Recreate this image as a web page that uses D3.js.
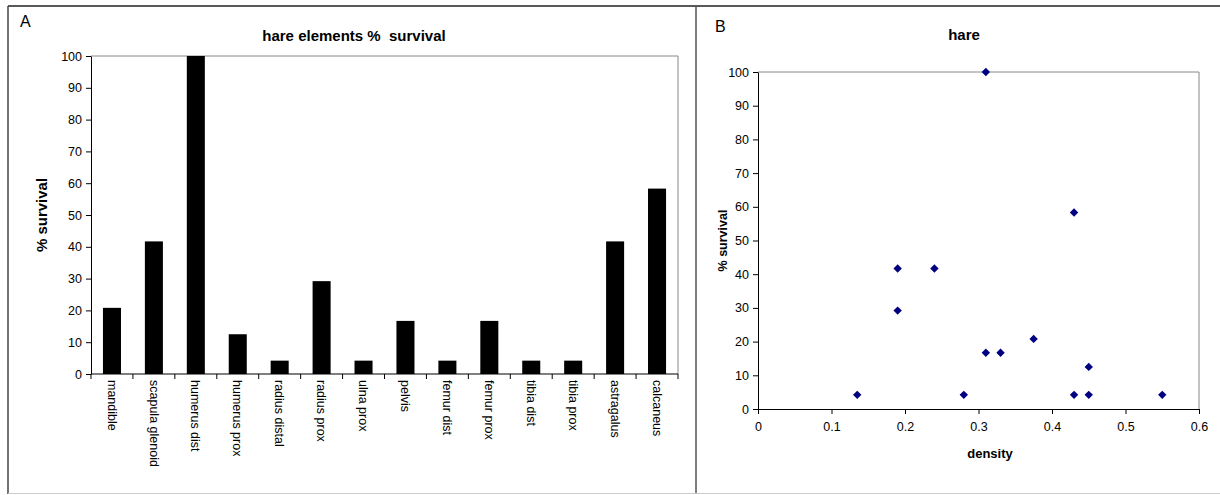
<!DOCTYPE html>
<html>
<head>
<meta charset="utf-8">
<script src="https://cdn.jsdelivr.net/npm/d3@7"></script>
<style>
  body { margin: 0; background: #fff; }
  svg text { font-family: Arial, "Liberation Sans", sans-serif; fill: #000; }
</style>
</head>
<body>
<svg id="chart" width="1220" height="495"></svg>
<script>
// bar chart (A)
var elements = ['mandible', 'scapula glenoid', 'humerus dist', 'humerus prox', 'radius distal',
                'radius prox', 'ulna prox', 'pelvis', 'femur dist', 'femur prox', 'tibia dist',
                'tibia prox', 'astragalus', 'calcaneus'];
var survival = [20.8, 41.7, 100, 12.5, 4.2, 29.2, 4.2, 16.7, 4.2, 16.7, 4.2, 4.2, 41.7, 58.3];

// scatter (B)
var density   = [0.135, 0.19, 0.19, 0.24, 0.28, 0.31, 0.31, 0.33, 0.375, 0.43, 0.43, 0.45, 0.45, 0.55];
var survivalB = [4.2, 41.7, 29.2, 41.7, 4.2, 100, 16.7, 16.7, 20.8, 58.3, 4.2, 12.5, 4.2, 4.2];

var yTicks = d3.range(0, 101, 10);
var xTicksB = [0, 0.1, 0.2, 0.3, 0.4, 0.5, 0.6];

var svg = d3.select('#chart');

// frame
svg.append('line').attr('x1', 8).attr('x2', 1220).attr('y1', 6).attr('y2', 6)
    .attr('stroke', '#222').attr('stroke-width', 1.5);
svg.append('line').attr('x1', 8).attr('x2', 8).attr('y1', 6).attr('y2', 494)
    .attr('stroke', '#444').attr('stroke-width', 1.5);
svg.append('line').attr('x1', 696).attr('x2', 696).attr('y1', 6).attr('y2', 494)
    .attr('stroke', '#555').attr('stroke-width', 1.5);
svg.append('line').attr('x1', 8).attr('x2', 1220).attr('y1', 493.5).attr('y2', 493.5)
    .attr('stroke', '#ccc').attr('stroke-width', 1);

svg.append('text').attr('x', 20).attr('y', 27).style('font-size', '16px').text('A');
svg.append('text').attr('x', 715).attr('y', 32).style('font-size', '16px').text('B');

// ---------- A: bars ----------
var plotA = { left: 91, right: 678, top: 56, bottom: 374 };
var xCat = d3.scaleBand().domain(elements).range([plotA.left, plotA.right]).padding(0);
var xBar = d3.scaleBand().domain(elements).range([plotA.left, plotA.right])
    .paddingInner(0.57).paddingOuter(0.285);
var yA = d3.scaleLinear().domain([0, 100]).range([plotA.bottom, plotA.top]);

var gA = svg.append('g');
gA.append('text').attr('x', 354).attr('y', 41).attr('text-anchor', 'middle')
    .style('font-size', '15px').style('font-weight', 'bold').style('white-space', 'pre')
    .text('hare elements %  survival');

// plot border (top/right)
gA.append('path')
    .attr('d', 'M' + plotA.left + ',' + plotA.top + 'H' + plotA.right + 'V' + plotA.bottom)
    .attr('fill', 'none').attr('stroke', '#888').attr('stroke-width', 1);

gA.selectAll('rect.bar').data(elements).enter().append('rect')
    .attr('class', 'bar')
    .attr('x', function(d) { return xBar(d); })
    .attr('width', xBar.bandwidth())
    .attr('y', function(d, i) { return yA(survival[i]); })
    .attr('height', function(d, i) { return yA(0) - yA(survival[i]); })
    .attr('fill', '#000');

var axisYA = gA.append('g').attr('transform', 'translate(' + plotA.left + ',0)')
    .call(d3.axisLeft(yA).tickValues(yTicks).tickSize(5).tickSizeOuter(0));
axisYA.select('.domain').attr('stroke', '#000');
axisYA.selectAll('text').style('font-size', '12.5px').attr('font-family', null).attr('dx', '-1');

// x axis with boundary ticks
var axisXA = gA.append('g').attr('transform', 'translate(0,' + plotA.bottom + ')');
axisXA.append('line').attr('x1', plotA.left).attr('x2', plotA.right)
    .attr('stroke', '#000').attr('stroke-width', 1.2);
var bounds = elements.map(function(d) { return xCat(d); }).concat([plotA.right]);
axisXA.selectAll('line.tk').data(bounds).enter().append('line')
    .attr('class', 'tk')
    .attr('x1', function(d) { return d; }).attr('x2', function(d) { return d; })
    .attr('y1', 0).attr('y2', 5).attr('stroke', '#000');
axisXA.selectAll('text.cat').data(elements).enter().append('text')
    .attr('class', 'cat')
    .attr('transform', function(d) {
        return 'translate(' + (xCat(d) + xCat.bandwidth() / 2) + ',6) rotate(90)';
    })
    .attr('dy', '0.35em')
    .style('font-size', '12.5px')
    .text(function(d) { return d; });

gA.append('text')
    .attr('transform', 'translate(47,' + (plotA.top + plotA.bottom) / 2 + ') rotate(-90)')
    .attr('text-anchor', 'middle')
    .style('font-size', '15px').style('font-weight', 'bold')
    .text('% survival');

// ---------- B: scatter ----------
var plotB = { left: 758, right: 1199, top: 72, bottom: 409 };
var xB = d3.scaleLinear().domain([0, 0.6]).range([plotB.left, plotB.right]);
var yB = d3.scaleLinear().domain([0, 100]).range([plotB.bottom, plotB.top]);

var gB = svg.append('g');
gB.append('text').attr('x', 964).attr('y', 40).attr('text-anchor', 'middle')
    .style('font-size', '15px').style('font-weight', 'bold').text('hare');

gB.append('path')
    .attr('d', 'M' + plotB.left + ',' + plotB.top + 'H' + plotB.right + 'V' + plotB.bottom)
    .attr('fill', 'none').attr('stroke', '#888').attr('stroke-width', 1);

var axisYB = gB.append('g').attr('transform', 'translate(' + plotB.left + ',0)')
    .call(d3.axisLeft(yB).tickValues(yTicks).tickSize(5).tickSizeOuter(0));
axisYB.selectAll('text').style('font-size', '12.5px').attr('font-family', null).attr('dx', '-1');

var axisXB = gB.append('g').attr('transform', 'translate(0,' + plotB.bottom + ')')
    .call(d3.axisBottom(xB).tickValues(xTicksB).tickSize(5).tickSizeOuter(0)
        .tickFormat(function(d) { return d === 0 ? '0' : d3.format('.1f')(d); }));
axisXB.select('.domain').attr('stroke-width', 1.2);
axisXB.selectAll('text').style('font-size', '12.5px').attr('font-family', null).attr('dy', '1.1em');

var diamond = d3.symbol().type(d3.symbolDiamond2).size(45);
gB.selectAll('path.pt').data(density).enter().append('path')
    .attr('class', 'pt')
    .attr('transform', function(d, i) { return 'translate(' + xB(d) + ',' + yB(survivalB[i]) + ')'; })
    .attr('d', diamond)
    .attr('fill', '#000080');

gB.append('text').attr('x', 990).attr('y', 458).attr('text-anchor', 'middle')
    .style('font-size', '13px').style('font-weight', 'bold').text('density');

gB.append('text')
    .attr('transform', 'translate(727,' + (plotB.top + plotB.bottom) / 2 + ') rotate(-90)')
    .attr('text-anchor', 'middle')
    .style('font-size', '12.5px').style('font-weight', 'bold')
    .text('% survival');
</script>
</body>
</html>
